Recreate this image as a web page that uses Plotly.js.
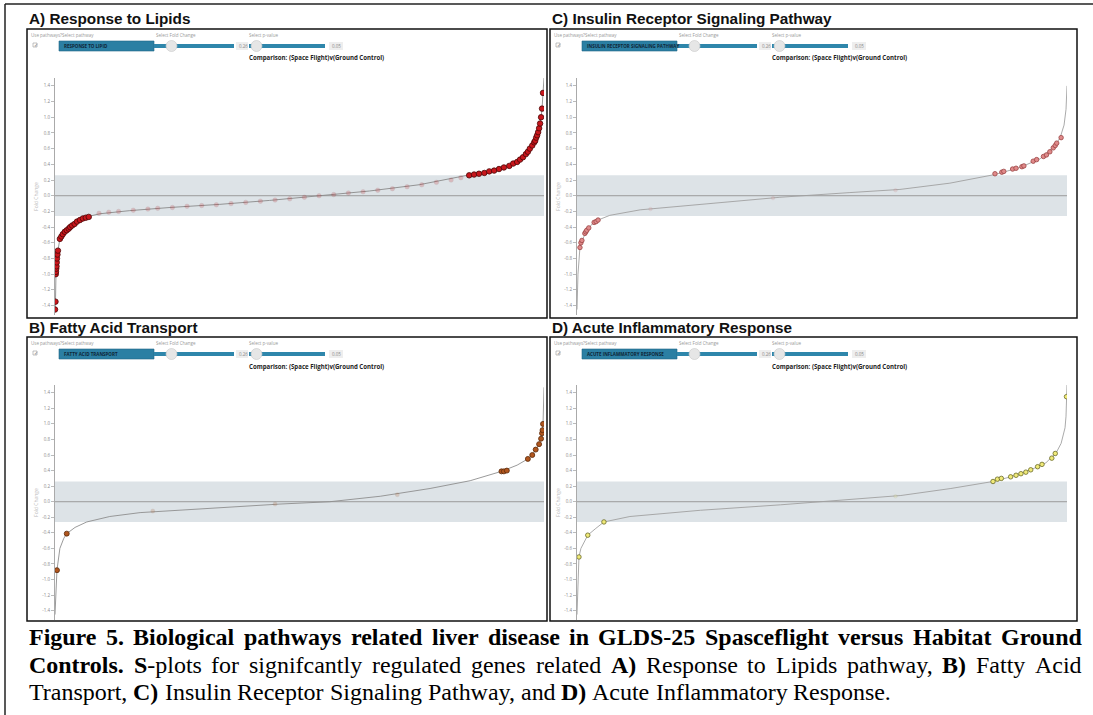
<!DOCTYPE html>
<html><head><meta charset="utf-8">
<script src="https://cdn.plot.ly/plotly-3.0.1.min.js"></script>
<style>html,body{margin:0;padding:0;background:#fff;} #chart{width:1093px;height:715px;}</style>
</head><body><div id="chart"></div>
<script>
// ---------------- DATA ----------------
const panelTitles = ["A) Response to Lipids", "B) Fatty Acid Transport", "C) Insulin Receptor Signaling Pathway", "D) Acute Inflammatory Response"];
const pathwayNames = ["RESPONSE TO LIPID", "FATTY ACID TRANSPORT", "INSULIN RECEPTOR SIGNALING PATHWAY", "ACUTE INFLAMMATORY RESPONSE"];
const controlLabels = ["Use pathways?Select pathway", "Select Fold Change", "Select p-value"];
const comparisonLabel = "Comparison: (Space Flight)v(Ground Control)";
const foldChangeCutoff = 0.26;
const pValueCutoff = 0.05;
const yTickVals = [-1.4, -1.2, -1.0, -0.8, -0.6, -0.4, -0.2, 0.0, 0.2, 0.4, 0.6, 0.8, 1.0, 1.2, 1.4];
const yTickText = ["-1.4", "-1.2", "-1.0", "-0.8", "-0.6", "-0.4", "-0.2", "0.0", "0.2", "0.4", "0.6", "0.8", "1.0", "1.2", "1.4"];

// Panel A: Response to Lipids (x = gene rank percentile, y = fold change)
const curveRankA = [0, 0.1, 0.2, 0.4, 0.6, 1.0, 2.0, 3.1, 5.1, 7.1, 9.2, 15.3, 23.5, 33.7, 43.9, 54.1, 64.3, 74.5, 84.7, 90.8, 94.9, 96.9, 98.2, 99.0, 99.4, 99.6, 99.8, 100];
const curveFcA = [-1.45, -1.35, -0.99, -0.8, -0.7, -0.55, -0.46, -0.4, -0.31, -0.26, -0.23, -0.19, -0.15, -0.11, -0.06, 0.0, 0.06, 0.14, 0.26, 0.34, 0.45, 0.56, 0.7, 0.86, 1.0, 1.11, 1.31, 1.5];
const sigRankA = [0, 0.1, 0.15, 0.2, 0.25, 0.3, 0.35, 0.4, 0.5, 0.6, 1.0, 1.3, 1.6, 2.0, 2.4, 2.8, 3.1, 3.5, 4.0, 4.5, 5.1, 5.7, 6.3, 6.9,
  84.7, 85.7, 86.7, 87.8, 88.8, 89.8, 90.8, 91.8, 92.9, 93.7, 94.5, 95.1, 95.7, 96.3, 96.7, 97.1, 97.6, 98.0, 98.2, 98.4, 98.6, 98.8, 99.0, 99.2, 99.4, 99.6, 99.8];
const sigFcA = [-1.45, -1.35, -1.0, -0.97, -0.93, -0.9, -0.85, -0.8, -0.75, -0.7, -0.55, -0.52, -0.49, -0.46, -0.44, -0.42, -0.4, -0.38, -0.36, -0.33, -0.31, -0.29, -0.28, -0.27,
  0.26, 0.27, 0.28, 0.29, 0.31, 0.32, 0.34, 0.36, 0.38, 0.41, 0.43, 0.46, 0.49, 0.53, 0.56, 0.6, 0.64, 0.68, 0.7, 0.74, 0.77, 0.81, 0.86, 0.92, 1.0, 1.11, 1.31];
const nsRankA = [9, 11, 13, 16, 19, 21, 24, 27, 30, 33, 36, 39, 42, 45, 48, 51, 54, 57, 60, 63, 66, 69, 72, 75, 78, 81, 83];
const nsFcA = [-0.225, -0.21, -0.2, -0.185, -0.17, -0.16, -0.15, -0.135, -0.125, -0.115, -0.1, -0.085, -0.07, -0.055, -0.04, -0.02, 0.0, 0.015, 0.035, 0.05, 0.07, 0.09, 0.115, 0.14, 0.17, 0.2, 0.23];

// Panel B: Fatty Acid Transport
const curveRankB = [0, 0.4, 1.0, 1.8, 2.4, 4.1, 6.5, 11.2, 17.4, 29.7, 46.0, 56.2, 66.5, 76.7, 84.9, 91.3, 94.5, 96.7, 97.6, 98.3, 99.0, 99.4, 99.6, 99.8, 100];
const curveFcB = [-1.45, -0.88, -0.6, -0.47, -0.41, -0.33, -0.26, -0.19, -0.14, -0.09, -0.03, 0.0, 0.07, 0.17, 0.27, 0.39, 0.47, 0.55, 0.6, 0.67, 0.74, 0.81, 0.88, 1.0, 1.47];
const sigRankB = [0.4, 2.4, 91.3, 91.8, 92.4, 96.7, 97.6, 98.3, 99.0, 99.4, 99.6, 99.7, 99.8];
const sigFcB = [-0.88, -0.41, 0.39, 0.39, 0.4, 0.55, 0.6, 0.67, 0.74, 0.81, 0.88, 0.92, 1.0];
const nsRankB = [20, 45, 70];
const nsFcB = [-0.12, -0.03, 0.09];

// Panel C: Insulin Receptor Signaling Pathway
const curveRankC = [0, 0.2, 0.6, 1.2, 2.0, 3.1, 4.3, 6.7, 12.9, 25.1, 41.4, 55.7, 65.9, 76.1, 85.3, 90.4, 94.5, 97.6, 98.6, 99.4, 99.8, 100];
const curveFcC = [-1.45, -1.0, -0.66, -0.55, -0.44, -0.36, -0.31, -0.25, -0.18, -0.11, -0.02, 0.04, 0.08, 0.16, 0.27, 0.36, 0.47, 0.64, 0.74, 0.9, 1.1, 1.4];
const sigRankC = [0.6, 0.8, 1.0, 1.6, 1.8, 2.0, 2.4, 3.5, 3.9, 4.3, 85.3, 86.7, 87.1, 88.9, 89.6, 90.8, 91.2, 93.1, 93.8, 95.2, 95.8, 96.5, 97.2, 97.6, 97.9, 98.8];
const sigFcC = [-0.66, -0.6, -0.57, -0.48, -0.46, -0.44, -0.41, -0.34, -0.33, -0.31, 0.28, 0.3, 0.31, 0.34, 0.35, 0.37, 0.38, 0.44, 0.46, 0.5, 0.52, 0.56, 0.61, 0.64, 0.67, 0.74];
const nsRankC = [15, 40, 65];
const nsFcC = [-0.17, -0.03, 0.07];

// Panel D: Acute Inflammatory Response
const curveRankD = [0, 0.2, 0.4, 0.8, 1.4, 2.2, 3.7, 5.5, 10.8, 25.2, 41.5, 55.8, 66.1, 76.3, 84.9, 88.5, 92.6, 95.7, 97.8, 98.8, 99.6, 99.8, 99.9, 100];
const curveFcD = [-1.45, -0.9, -0.71, -0.6, -0.52, -0.43, -0.35, -0.26, -0.19, -0.11, -0.04, 0.03, 0.08, 0.17, 0.26, 0.32, 0.41, 0.5, 0.63, 0.75, 0.95, 1.1, 1.35, 1.5];
const sigRankD = [0.4, 2.2, 5.5, 84.9, 85.8, 86.6, 88.5, 89.6, 90.6, 91.6, 92.6, 94.0, 94.9, 96.9, 97.6, 99.9];
const sigFcD = [-0.71, -0.43, -0.26, 0.26, 0.29, 0.3, 0.32, 0.34, 0.36, 0.38, 0.41, 0.45, 0.48, 0.56, 0.62, 1.35];
const nsRankD = [65];
const nsFcD = [0.07];

// Caption lines: words made of [text, bold] runs
const captionLine1 = "Figure 5. Biological pathways related liver disease in GLDS-25 Spasceflight versus Habitat Ground";
const captionLine2 = [[["Controls.", 1]], [["S", 1], ["-plots", 0]], [["for", 0]], [["signifcantly", 0]], [["regulated", 0]], [["genes", 0]], [["related", 0]], [["A", 1], [")", 1]], [["Response", 0]], [["to", 0]], [["Lipids", 0]], [["pathway,", 0]], [["B", 1], [")", 1]], [["Fatty", 0]], [["Acid", 0]]];
const captionLine3 = [[["Transport,", 0]], [["C)", 1]], [["Insulin", 0]], [["Receptor", 0]], [["Signaling", 0]], [["Pathway,", 0]], [["and", 0]], [["D)", 1]], [["Acute", 0]], [["Inflammatory", 0]], [["Response.", 0]]];

// ---------------- LAYOUT HELPERS ----------------
const W = 1093, H = 715;
const X = p => p / W, Y = p => 1 - p / H;

const panels = [
  {key: "A", ox: 27, oy: 29, box: [27, 29, 547, 318], xd: [55, 544], yd: [78, 315], cr: curveRankA, cf: curveFcA, sr: sigRankA, sf: sigFcA, nr: nsRankA, nf: nsFcA, fill: "#c8161c", edge: "#4a0606", size: 5.5, lc: "#8a8a8a"},
  {key: "B", ox: 27, oy: 337, box: [27, 337, 547, 621], xd: [55, 544], yd: [385, 620], cr: curveRankB, cf: curveFcB, sr: sigRankB, sf: sigFcB, nr: nsRankB, nf: nsFcB, fill: "#b0561e", edge: "#5a2a0a", size: 5, lc: "#8f8f8f"},
  {key: "C", ox: 550, oy: 29, box: [550, 29, 1077, 318], xd: [577, 1067], yd: [78, 315], cr: curveRankC, cf: curveFcC, sr: sigRankC, sf: sigFcC, nr: nsRankC, nf: nsFcC, fill: "#e08a8a", edge: "#9a4444", size: 4.5, lc: "#a0a0a0"},
  {key: "D", ox: 550, oy: 337, box: [550, 337, 1077, 621], xd: [577, 1067], yd: [385, 620], cr: curveRankD, cf: curveFcD, sr: sigRankD, sf: sigFcD, nr: nsRankD, nf: nsFcD, fill: "#f0ea78", edge: "#6a6a28", size: 4.5, lc: "#a0a0a0"}
];
const titleIdx = {A: 0, B: 1, C: 2, D: 3};

const traces = [];
const layout = {
  width: W, height: H, margin: {l: 0, r: 0, t: 0, b: 0},
  paper_bgcolor: "#fff", plot_bgcolor: "rgba(0,0,0,0)", showlegend: false,
  shapes: [], annotations: []
};

// outer frame
layout.shapes.push({type: "line", xref: "paper", yref: "paper", x0: X(5), x1: X(1093), y0: Y(4), y1: Y(4), line: {color: "#222", width: 1.5}});
layout.shapes.push({type: "line", xref: "paper", yref: "paper", x0: X(5), x1: X(5), y0: Y(4), y1: Y(715), line: {color: "#222", width: 1.5}});

panels.forEach((p, i) => {
  const n = i + 1;
  const xa = "x" + (n === 1 ? "" : n), ya = "y" + (n === 1 ? "" : n);
  const xk = "xaxis" + (n === 1 ? "" : n), yk = "yaxis" + (n === 1 ? "" : n);
  layout[xk] = {domain: [X(p.xd[0]), X(p.xd[1])], range: [0, 100], visible: false, anchor: ya};
  layout[yk] = {domain: [Y(p.yd[1]), Y(p.yd[0])], range: [-1.52, 1.5], anchor: xa,
    showgrid: false, zeroline: false, showline: true, linecolor: "#aaa", linewidth: 1,
    ticks: "outside", ticklen: 3, tickcolor: "#aaa", tickwidth: 0.8,
    tickvals: yTickVals, ticktext: yTickText, tickfont: {family: "Open Sans", size: 4.5, color: "#888"},
    title: {text: "Fold Change", font: {family: "Open Sans", size: 5, color: "#bbb"}, standoff: 3}};
  layout.shapes.push({type: "rect", xref: xa + " domain", yref: ya, x0: 0, x1: 1, y0: -foldChangeCutoff, y1: foldChangeCutoff, fillcolor: "#dde3e7", line: {width: 0}, layer: "below"});
  layout.shapes.push({type: "line", xref: xa + " domain", yref: ya, x0: 0, x1: 1, y0: 0, y1: 0, line: {color: "#9a9a9a", width: 1}, layer: "below"});
  traces.push({type: "scatter", mode: "lines", x: p.cr, y: p.cf, xaxis: xa, yaxis: ya, line: {color: p.lc, width: 0.9}, hoverinfo: "skip"});
  traces.push({type: "scatter", mode: "markers", x: p.nr, y: p.nf, xaxis: xa, yaxis: ya, opacity: 0.2,
    marker: {color: p.fill, size: p.size - 1, line: {color: p.edge, width: 0.4}}, hoverinfo: "skip"});
  traces.push({type: "scatter", mode: "markers", x: p.sr, y: p.sf, xaxis: xa, yaxis: ya,
    marker: {color: p.fill, size: p.size, line: {color: p.edge, width: 0.8}}});

  layout.shapes.push({type: "rect", xref: "paper", yref: "paper", x0: X(p.box[0]), x1: X(p.box[2]), y0: Y(p.box[3]), y1: Y(p.box[1]), line: {color: "#111", width: 1.5}});
  layout.annotations.push({xref: "paper", yref: "paper", x: X(p.box[0] + 1), y: Y(p.box[1] - 10), xanchor: "left", yanchor: "middle", showarrow: false, borderpad: 0,
    text: "<b>" + panelTitles[titleIdx[p.key]] + "</b>", font: {family: "Liberation Sans", size: 15.3, color: "#111"}});

  const ox = p.ox, oy = p.oy;
  const lbl = (txt, x, y, size, col, bold) => layout.annotations.push({xref: "paper", yref: "paper", x: X(x), y: Y(y), xanchor: "left", yanchor: "middle", showarrow: false, borderpad: 0,
    text: bold ? "<b>" + txt + "</b>" : txt, font: {family: "Open Sans", size: size, color: col}});
  const rect = (x0, y0, x1, y1, fill, lc) => layout.shapes.push({type: "rect", xref: "paper", yref: "paper", x0: X(x0), x1: X(x1), y0: Y(y1), y1: Y(y0), fillcolor: fill, line: {color: lc || fill, width: lc ? 0.6 : 0}});
  lbl(controlLabels[0], ox + 3, oy + 6, 4.5, "#999");
  rect(ox + 6, oy + 14, ox + 10, oy + 18, "#fff", "#999");
  lbl("✓", ox + 6, oy + 16, 4.5, "#777");
  rect(ox + 32, oy + 12, ox + 127, oy + 22, "#2b7fa3", "#1f6688");
  lbl(pathwayNames[titleIdx[p.key]], ox + 36, oy + 17, 4.5, "#0e2536", true);
  lbl(controlLabels[1], ox + 128, oy + 6, 4.5, "#999");
  rect(ox + 127, oy + 15, ox + 207, oy + 19, "#2e86ab");
  layout.shapes.push({type: "circle", xref: "paper", yref: "paper", x0: X(ox + 139), x1: X(ox + 150), y0: Y(oy + 22.5), y1: Y(oy + 11.5), fillcolor: "#e6e6e6", line: {color: "#c8c8c8", width: 0.6}});
  rect(ox + 209, oy + 13, ox + 221, oy + 21, "#eeeeee");
  lbl(foldChangeCutoff.toFixed(2), ox + 211, oy + 17, 4.5, "#888");
  lbl(controlLabels[2], ox + 221, oy + 6, 4.5, "#999");
  rect(ox + 222, oy + 15, ox + 298, oy + 19, "#2e86ab");
  layout.shapes.push({type: "circle", xref: "paper", yref: "paper", x0: X(ox + 224), x1: X(ox + 235), y0: Y(oy + 22.5), y1: Y(oy + 11.5), fillcolor: "#e6e6e6", line: {color: "#c8c8c8", width: 0.6}});
  rect(ox + 302, oy + 13, ox + 316, oy + 21, "#eeeeee");
  lbl(pValueCutoff.toFixed(2), ox + 304, oy + 17, 4.5, "#888");
  lbl(comparisonLabel, ox + 221, oy + 29, 6.1, "#222", true);
});

// ---------------- CAPTION (justified) ----------------
const ctx = document.createElement("canvas").getContext("2d");
const FAM = '"Liberation Serif"';
function runWidth(t, b, s) { ctx.font = (b ? "bold " : "") + s + "px " + FAM; return ctx.measureText(t).width; }
function wordWidth(w, s) { return w.reduce((a, r) => a + runWidth(r[0], r[1], s), 0); }
function wordHtml(w) { return w.map(r => r[1] ? "<b>" + r[0] + "</b>" : r[0]).join(""); }
const line1Words = captionLine1.split(" ").map(t => [[t, 1]]);
const ref3 = captionLine3.reduce((a, w) => a + wordWidth(w, 100), 0) + (captionLine3.length - 1) * runWidth(" ", 0, 100);
const CS = 100 * (891 - 28) / ref3;
function placeLine(words, yPx, justify) {
  const x0 = 28, x1 = 1081;
  const widths = words.map(w => wordWidth(w, CS));
  const total = widths.reduce((a, b) => a + b, 0);
  const gap = justify ? (x1 - x0 - total) / (words.length - 1) : runWidth(" ", 0, CS);
  let x = x0;
  words.forEach((w, i) => {
    layout.annotations.push({xref: "paper", yref: "paper", x: X(x), y: Y(yPx), xanchor: "left", yanchor: "middle", showarrow: false, borderpad: 0,
      text: wordHtml(w), font: {family: "Liberation Serif", size: CS, color: "#000"}});
    x += widths[i] + gap;
  });
}
placeLine(line1Words, 637, true);
placeLine(captionLine2, 665, true);
placeLine(captionLine3, 692, false);

Plotly.newPlot("chart", traces, layout, {displayModeBar: false, staticPlot: true});
</script></body></html>
